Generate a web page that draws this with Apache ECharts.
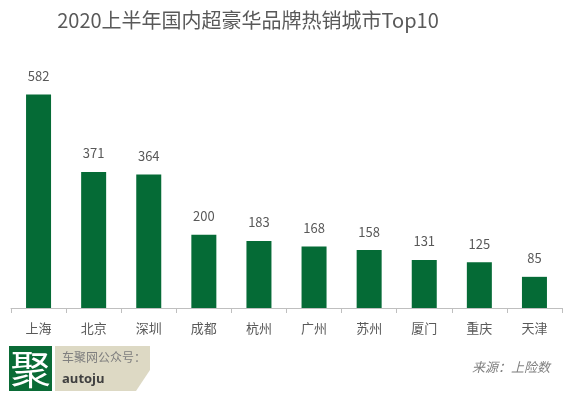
<!DOCTYPE html>
<html><head><meta charset="utf-8">
<script src="https://cdn.jsdelivr.net/npm/echarts@6/dist/echarts.min.js"></script>
<style>html,body{margin:0;padding:0;background:#fff}#c{width:580px;height:397px}</style>
</head><body><div id="c"></div>
<script>
const titleText = '2020上半年国内超豪华品牌热销城市Top10';
const cities = ['上海','北京','深圳','成都','杭州','广州','苏州','厦门','重庆','天津'];
const sales = [582, 371, 364, 200, 183, 168, 158, 131, 125, 85];
const fontCJK = '"Noto Sans CJK SC", "Noto Sans", sans-serif';
const chart = echarts.init(document.getElementById('c'), null, {renderer:'canvas'});
chart.setOption({
  animation:false,
  backgroundColor:'#fff',
  title:{text:titleText, left:243, top:5, textAlign:'center',
    textStyle:{fontFamily:fontCJK, fontSize:20, fontWeight:'normal', color:'#595959'}},
  grid:{left:11, right:18, top:88, bottom:89, containLabel:false},
  xAxis:{type:'category', data:cities,
    axisLine:{lineStyle:{color:'#bfbfbf', width:1}},
    axisTick:{show:true, alignWithLabel:false, length:5, lineStyle:{color:'#bfbfbf'}},
    axisLabel:{fontFamily:fontCJK, fontSize:13, color:'#595959', margin:14}},
  yAxis:{type:'value', min:0, max:600, show:false, splitLine:{show:false}},
  series:[{type:'bar', data:sales, barWidth:25,
    itemStyle:{color:'#056b36'},
    label:{show:true, position:'top', distance:12, fontFamily:fontCJK, fontSize:13, color:'#595959'}}],
  graphic:[
    {type:'polygon', shape:{points:[[55,346],[150,346],[150,370],[136,391],[55,391]]}, style:{fill:'#ddd9c4'}},
    {type:'rect', shape:{x:9, y:346, width:43, height:45}, style:{fill:'#0a6b36'}},
    {type:'text', x:30.5, y:368.5, style:{text:'聚', fill:'#fff', font:'40px '+fontCJK, align:'center', verticalAlign:'middle'}},
    {type:'text', x:62, y:357, style:{text:'车聚网公众号：', fill:'#7f7f7f', font:'12px '+fontCJK, verticalAlign:'middle'}},
    {type:'text', x:62, y:379, style:{text:'autoju', fill:'#404040', font:'bold 13px "Open Sans", sans-serif', verticalAlign:'middle'}},
    {type:'text', x:472, y:367, style:{text:'来源：上险数', fill:'#7f7f7f', font:'italic 13px '+fontCJK, verticalAlign:'middle'}}
  ]
});
</script></body></html>
